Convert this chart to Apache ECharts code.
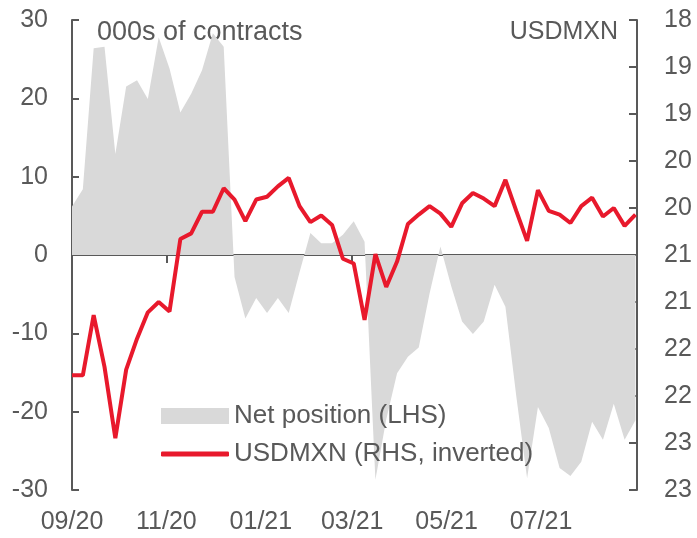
<!DOCTYPE html>
<html style="height: 100%">
<head>
  <meta charset="utf-8">
</head>
<body style="height: 100%; margin: 0">
  <div id="container" style="width: 697px; height: 538px"></div>
  <script type="text/javascript" src="https://fastly.jsdelivr.net/npm/echarts@6/dist/echarts.min.js"></script>
  <script type="text/javascript">
    // weekly observations (Tuesdays)
    var weeks = [
      '2020-09-01', '2020-09-08', '2020-09-15', '2020-09-22', '2020-09-29',
      '2020-10-06', '2020-10-13', '2020-10-20', '2020-10-27',
      '2020-11-03', '2020-11-10', '2020-11-17', '2020-11-24',
      '2020-12-01', '2020-12-08', '2020-12-15', '2020-12-22', '2020-12-29',
      '2021-01-05', '2021-01-12', '2021-01-19', '2021-01-26',
      '2021-02-02', '2021-02-09', '2021-02-16', '2021-02-23',
      '2021-03-02', '2021-03-09', '2021-03-16', '2021-03-23', '2021-03-30',
      '2021-04-06', '2021-04-13', '2021-04-20', '2021-04-27',
      '2021-05-04', '2021-05-11', '2021-05-18', '2021-05-25',
      '2021-06-01', '2021-06-08', '2021-06-15', '2021-06-22', '2021-06-29',
      '2021-07-06', '2021-07-13', '2021-07-20', '2021-07-27',
      '2021-08-03', '2021-08-10', '2021-08-17', '2021-08-24', '2021-08-31'
    ];
    // net position, 000s of contracts (LHS)
    var netPosition = [
      6.2, 8.4, 26.4, 26.6, 12.9,
      21.5, 22.3, 19.9, 27.8,
      23.8, 18.2, 20.6, 23.6,
      28.3, 26.6, -2.8, -8.1, -5.5,
      -7.4, -5.5, -7.4, -2.2,
      2.8, 1.5, 1.5, 2.6,
      4.3, 1.7, -28.7, -21.0, -15.1,
      -13.0, -11.8, -4.9, 1.1,
      -4.0, -8.5, -10.1, -8.5,
      -3.8, -6.6, -18.0, -28.5, -19.4,
      -22.1, -27.2, -28.2, -26.4,
      -21.3, -23.6, -19.0, -23.6, -21.1
    ];
    // USDMXN spot (RHS, inverted)
    var usdmxn = [
      21.78, 21.78, 21.14, 21.69, 22.45,
      21.72, 21.39, 21.11, 21.00,
      21.10, 20.33, 20.27, 20.04,
      20.04, 19.79, 19.91, 20.14, 19.91,
      19.88, 19.77, 19.68, 19.98,
      20.15, 20.08, 20.18, 20.54,
      20.59, 21.19, 20.49, 20.84, 20.57,
      20.17, 20.07, 19.98, 20.06,
      20.20, 19.95, 19.84, 19.90,
      19.98, 19.70, 20.03, 20.35, 19.81,
      20.03, 20.07, 20.16, 19.98,
      19.89, 20.09, 20.00, 20.19, 20.07
    ];
    var tickDates = ['2020-09-01', '2020-11-01', '2021-01-01', '2021-03-01', '2021-05-01', '2021-07-01', '2021-09-01'];
    var tickLabels = ['09/20', '11/20', '01/21', '03/21', '05/21', '07/21', ''];

    // date string -> days since the start of the axis
    var start = new Date(2020, 8, 1).getTime();
    function day(s) {
      var p = s.split('-');
      return Math.round((new Date(+p[0], +p[1] - 1, +p[2]).getTime() - start) / 86400000);
    }

    var grey = '#595959';
    var red = '#e8192c';
    var font = 'Liberation Sans';
    var tickDays = tickDates.map(day);

    var chart = echarts.init(document.getElementById('container'), null, { renderer: 'canvas' });

    var legendBase = {
      orient: 'vertical',
      left: 156,
      itemWidth: 68,
      textStyle: { fontSize: 26, color: grey, fontFamily: font }
    };

    var option = {
      animation: false,
      backgroundColor: '#fff',
      textStyle: { fontFamily: font },
      grid: { left: 72, right: 60, top: 20, bottom: 48, containLabel: false },
      legend: [
        Object.assign({}, legendBase, {
          top: 398,
          itemHeight: 16,
          data: [{ name: 'Net position (LHS)', icon: 'rect' }]
        }),
        Object.assign({}, legendBase, {
          top: 436,
          itemHeight: 5,
          data: [{ name: 'USDMXN (RHS, inverted)', icon: 'roundRect' }]
        })
      ],
      graphic: [
        {
          type: 'text', left: 97, top: 19,
          style: { text: '000s of contracts', fontSize: 27, fill: grey, fontFamily: font }
        },
        {
          type: 'text', right: 79, top: 20,
          style: { text: 'USDMXN', fontSize: 25, fill: grey, fontFamily: font }
        }
      ],
      xAxis: [
        {
          type: 'value',
          min: tickDays[0],
          max: tickDays[6],
          position: 'bottom',
          axisLine: { show: false, onZero: false },
          axisTick: { show: false },
          splitLine: { show: false },
          axisLabel: {
            customValues: tickDays.slice(0, 6),
            fontSize: 25,
            color: grey,
            margin: 20,
            formatter: function (v) {
              return tickLabels[tickDays.indexOf(v)];
            }
          }
        },
        {
          type: 'value',
          min: tickDays[0],
          max: tickDays[6],
          position: 'bottom',
          axisLine: { show: true, onZero: true, onZeroAxisIndex: 0, lineStyle: { color: grey, width: 2 } },
          axisTick: { show: true, customValues: tickDays, length: 8, lineStyle: { color: grey, width: 2 } },
          axisLabel: { show: false },
          splitLine: { show: false }
        }
      ],
      yAxis: [
        {
          type: 'value',
          min: -30,
          max: 30,
          interval: 10,
          position: 'left',
          axisLine: { show: true, onZero: false, lineStyle: { color: grey, width: 2 } },
          // negative length draws the ticks into the plot
          axisTick: { show: true, inside: false, length: -7, lineStyle: { color: grey, width: 2 } },
          splitLine: { show: false },
          axisLabel: { fontSize: 25, color: grey, margin: 24 }
        },
        {
          type: 'value',
          min: 18,
          max: 23,
          interval: 0.5,
          inverse: true,
          position: 'right',
          axisLine: { show: true, onZero: false, lineStyle: { color: grey, width: 2 } },
          axisTick: { show: true, inside: false, length: -8, lineStyle: { color: grey, width: 2 } },
          splitLine: { show: false },
          axisLabel: {
            fontSize: 25, color: grey, margin: 27,
            formatter: function (v) { return Math.round(v); }
          }
        }
      ],
      series: [
        {
          name: 'Net position (LHS)',
          type: 'line',
          xAxisIndex: 0,
          yAxisIndex: 0,
          data: weeks.map(function (d, i) { return [day(d), netPosition[i]]; }),
          showSymbol: false,
          symbol: 'none',
          color: '#d9d9d9',
          lineStyle: { width: 0 },
          areaStyle: { color: '#d9d9d9', opacity: 1 },
          z: 1
        },
        {
          name: 'USDMXN (RHS, inverted)',
          type: 'line',
          xAxisIndex: 0,
          yAxisIndex: 1,
          data: weeks.map(function (d, i) { return [day(d), usdmxn[i]]; }),
          showSymbol: false,
          symbol: 'none',
          color: red,
          lineStyle: { width: 4, color: red },
          z: 3
        }
      ]
    };

    chart.setOption(option);
    window.addEventListener('resize', chart.resize);
  </script>
</body>
</html>
